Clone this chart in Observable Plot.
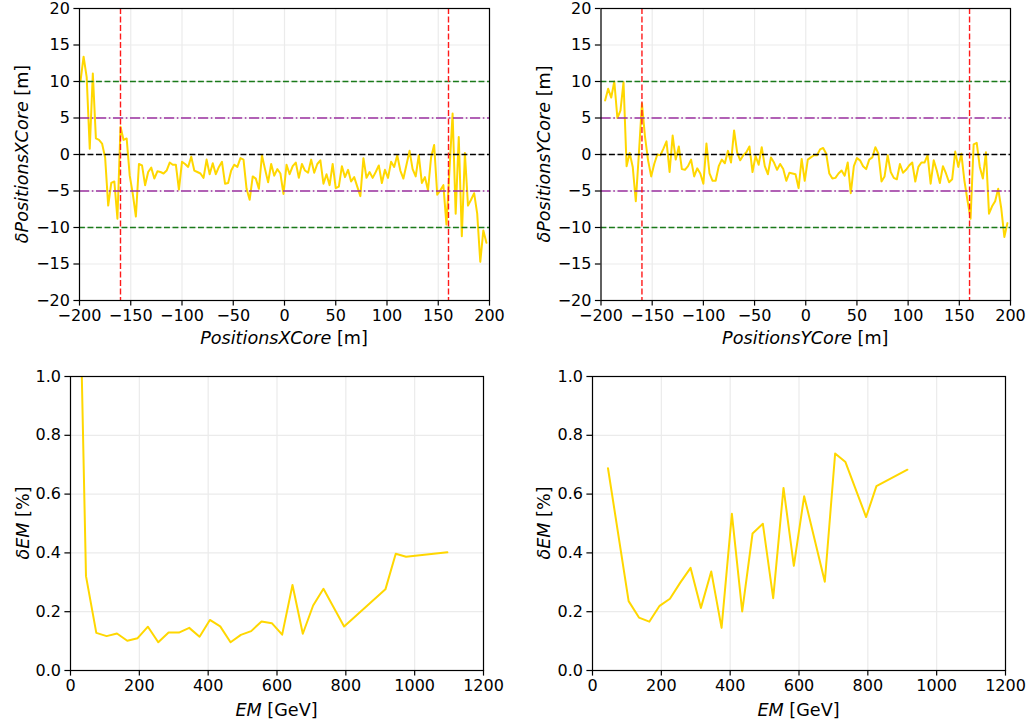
<!DOCTYPE html>
<html><head><meta charset="utf-8">
<script src="https://cdn.jsdelivr.net/npm/d3@7"></script>
<script src="https://cdn.jsdelivr.net/npm/@observablehq/plot@0.6"></script>
<style>
body{margin:0;background:#fff;}
#root{position:relative;width:1032px;height:725px;font-family:"DejaVu Sans",sans-serif;background:#fff;}
.panel{position:absolute;}
</style></head><body><div id="root"></div>
<script>
// core position bins [m]
const corePos = [-199,-196,-193,-190,-187,-184,-181,-178,-175,-172,-169,-166,-163,-160,-157,-154,-151,-148,-145,-142,-139,-136,-133,-130,-127,-124,-121,-118,-115,-112,-109,-106,-103,-100,-97,-94,-91,-88,-85,-82,-79,-76,-73,-70,-67,-64,-61,-58,-55,-52,-49,-46,-43,-40,-37,-34,-31,-28,-25,-22,-19,-16,-13,-10,-7,-4,-1,2,5,8,11,14,17,20,23,26,29,32,35,38,41,44,47,50,53,56,59,62,65,68,71,74,77,80,83,86,89,92,95,98,101,104,107,110,113,116,119,122,125,128,131,134,137,140,143,146,149,152,155,158,161,164,167,170,173,176,179,182,185,188,191,194,197];
const corePosY = corePos.slice(1);
// δPositionsXCore [m]
const dPosX = [10.1,13.4,10.6,0.8,11.1,2.2,2.0,1.5,-0.4,-7.0,-3.9,-3.7,-8.8,3.8,2.0,2.2,-2.9,-5.4,-8.5,-1.3,
-1.5,-4.2,-2.4,-1.8,-3.3,-2.3,-2.4,-2.6,-2.2,-1.1,-1.4,-1.4,-4.8,-1.0,-1.3,-1.7,-0.3,-2.2,-2.4,-2.6,
-3.2,-0.7,-2.7,-1.2,-2.7,-1.7,-1.0,-4.0,-3.9,-2.2,-1.4,-1.7,-0.5,-0.7,-4.7,-6.2,-3.0,-3.3,-4.7,-0.1,
-2.0,-3.8,-1.3,-2.9,-2.0,-2.6,
-5.4,-1.4,-2.7,-1.6,-1.1,-3.2,-1.3,-2.2,-2.5,-0.7,
-2.5,-1.3,-0.8,-4.0,-2.7,-4.2,-1.3,-4.6,-4.4,-1.6,
-3.1,-2.1,-3.7,-3.1,-4.4,-5.7,-0.5,-3.2,-2.4,-3.2,
-2.4,-1.5,-3.9,-2.1,-3.2,-1.0,-1.7,-0.1,-2.2,-3.3,
-1.4,0.5,-2.0,-3.0,-0.1,-3.9,-3.1,-4.9,-0.4,1.3,
-5.5,-4.9,-4.2,-9.6,-2.0,5.6,-8.1,2.4,-11.2,0.2,
-7.0,-6.2,-5.3,-8.1,-14.7,-10.4,-12.1];
// δPositionsYCore [m]
const dPosY = [7.4,9.0,7.8,10.0,5.0,6.0,9.9,-1.6,0.2,-1.7,
-6.4,0.1,7.0,2.4,-0.8,-3.0,-1.3,0.0,-0.1,0.8,
1.8,-2.4,2.6,-0.7,1.1,-2.0,-2.1,-1.6,-0.7,-3.0,
-1.9,-2.6,-4.0,1.5,-2.6,-3.6,-3.6,-1.6,-0.7,-1.2,
0.5,-1.1,3.3,0.3,-0.8,-0.1,0.3,1.1,-2.4,-0.2,
-1.4,1.0,-1.6,-2.7,-0.4,-1.1,-2.1,-1.3,-2.0,-3.6,
-2.5,-2.6,-2.7,-4.6,-0.6,-3.6,-0.7,-0.4,
-0.1,-0.1,0.7,0.9,0.1,-2.6,-3.3,-3.2,-2.6,-2.2,
-2.9,-1.1,-5.3,-1.6,-0.5,-0.8,-1.6,-2.0,-0.7,-0.4,
1.0,0.1,-3.7,-3.0,-0.1,-2.4,-3.2,-3.4,-1.3,-2.5,
-2.1,-1.5,-1.1,-3.7,-1.7,-1.1,-1.1,-0.1,-4.0,-0.8,
-2.2,-3.9,-1.6,-2.6,-3.8,-3.4,0.4,-1.7,0.1,-3.6,
-6.3,-8.8,1.4,1.6,-1.7,-3.3,0.3,-8.1,-7.1,-6.4,
-4.7,-7.4,-11.3,-9.4];
// EM [GeV] and δEM [%]
const emLeft = [15,45,75,105,135,165,195,225,255,285,315,345,375,405,435,465,495,525,555,585,615,645,675,705,735,795,915,945,975,1095];
const dEmLeft = [2.0,0.321,0.128,0.117,0.126,0.101,0.110,0.149,0.096,0.129,0.129,0.145,0.115,0.172,0.150,0.096,0.121,0.134,0.167,0.161,0.122,0.291,0.125,0.221,0.278,0.150,0.276,0.397,0.387,0.402];
const emRight = [45,105,135,165,195,225,255,285,315,345,375,405,435,465,495,525,555,585,615,675,705,735,795,825,915];
const dEmRight = [0.688,0.236,0.180,0.166,0.220,0.244,0.299,0.349,0.213,0.337,0.145,0.533,0.201,0.466,0.499,0.246,0.621,0.356,0.593,0.302,0.738,0.709,0.522,0.627,0.683];

const coreTicks = [-200,-150,-100,-50,0,50,100,150,200];
const dPosTicks = [-20,-15,-10,-5,0,5,10,15,20];
const emTicks = [0,200,400,600,800,1000,1200];
const dEmTicks = [0,0.2,0.4,0.6,0.8,1.0];
const outerLines = [-10,10];
const innerLines = [-5,5];
const zeroLine = [0];
const edgeLines = [-160,160];

const minus = d => d < 0 ? "\u2212" + Math.abs(d) : String(d);
const oneDec = d => d.toFixed(1);

function addLabel(svg, x, y, it, rest, rotate) {
  const t = d3.select(svg).append("text")
    .attr("text-anchor", "middle")
    .attr("dy", "0.35em")
    .attr("font-family", "DejaVu Sans, sans-serif")
    .attr("font-size", 17.6)
    .attr("fill", "#000")
    .attr("transform", rotate ? `translate(${x},${y}) rotate(-90)` : `translate(${x},${y})`);
  t.append("tspan").attr("font-style", "italic").text(it);
  t.append("tspan").text(rest);
}

function panel(o) {
  const marks = [
    Plot.gridX(o.xt, {stroke: "#ebebeb", strokeOpacity: 1, strokeWidth: 1.2}),
    Plot.gridY(o.yt, {stroke: "#ebebeb", strokeOpacity: 1, strokeWidth: 1.2}),
    ...o.marks,
    Plot.frame({stroke: "#000", strokeWidth: 1.2}),
    Plot.axisX(o.xt, {tickSize: 5.6, tickPadding: 4, tickFormat: o.xf, fontSize: 16, label: null, stroke: "#000", strokeWidth: 1.2}),
    Plot.axisY(o.yt, {tickSize: 5.6, tickPadding: 4, tickFormat: o.yf, fontSize: 16, label: null, stroke: "#000", strokeWidth: 1.2})
  ];
  const svg = Plot.plot({
    width: o.w, height: o.h,
    marginLeft: o.m[0], marginRight: o.m[1], marginTop: o.m[2], marginBottom: o.m[3],
    style: {fontFamily: "DejaVu Sans, sans-serif", fontSize: "16px", color: "#000", background: "#fff", overflow: "visible"},
    x: {domain: o.xd},
    y: {domain: o.yd},
    marks
  });
  const L = o.m[0], R = o.w - o.m[1], T = o.m[2], B = o.h - o.m[3];
  addLabel(svg, (L + R) / 2, o.xly, o.xl[0], o.xl[1], false);
  addLabel(svg, o.ylx, (T + B) / 2, o.yl[0], o.yl[1], true);
  const div = document.createElement("div");
  div.className = "panel";
  div.style.left = o.left + "px";
  div.style.top = o.top + "px";
  div.appendChild(svg);
  document.getElementById("root").appendChild(div);
}

const gold = "#FFD700";
function refMarks() {
  return [
    Plot.ruleY(outerLines, {stroke: "#1a7a1a", strokeWidth: 1.4, strokeDasharray: "5.9,2.6"}),
    Plot.ruleY(innerLines, {stroke: "#9b30a0", strokeWidth: 1.6, strokeDasharray: "10.2,2.6,1.6,2.6"}),
    Plot.ruleY(zeroLine, {stroke: "#000", strokeWidth: 1.4, strokeDasharray: "5.9,2.6"}),
    Plot.ruleX(edgeLines, {stroke: "#ff1a1a", strokeWidth: 1.4, strokeDasharray: "5.9,2.6"})
  ];
}

panel({left: 0, top: 0, w: 516, h: 360, m: [79, 27, 8, 60],
  xd: [-200, 200], yd: [-20, 20], xt: coreTicks, yt: dPosTicks, xf: minus, yf: minus,
  marks: [Plot.line(corePos.map((x, i) => [x, dPosX[i]]), {x: d => d[0], y: d => d[1], stroke: gold, strokeWidth: 2}), ...refMarks()],
  xl: ["PositionsXCore", " [m]"], yl: ["\u03b4PositionsXCore", " [m]"], xly: 338, ylx: 22});

panel({left: 516, top: 0, w: 516, h: 360, m: [84.5, 22, 8, 60],
  xd: [-200, 200], yd: [-20, 20], xt: coreTicks, yt: dPosTicks, xf: minus, yf: minus,
  marks: [Plot.line(corePosY.map((x, i) => [x, dPosY[i]]), {x: d => d[0], y: d => d[1], stroke: gold, strokeWidth: 2}), ...refMarks()],
  xl: ["PositionsYCore", " [m]"], yl: ["\u03b4PositionsYCore", " [m]"], xly: 338, ylx: 27.5});

panel({left: 0, top: 360, w: 516, h: 365, m: [70, 33, 16, 55],
  xd: [0, 1200], yd: [0, 1], xt: emTicks, yt: dEmTicks, xf: d => String(d), yf: oneDec,
  marks: [Plot.line(emLeft.map((x, i) => [x, dEmLeft[i]]), {x: d => d[0], y: d => d[1], stroke: gold, strokeWidth: 2, clip: true})],
  xl: ["EM", " [GeV]"], yl: ["\u03b4EM", " [%]"], xly: 350, ylx: 22.5});

panel({left: 516, top: 360, w: 516, h: 365, m: [76, 27, 16, 55],
  xd: [0, 1200], yd: [0, 1], xt: emTicks, yt: dEmTicks, xf: d => String(d), yf: oneDec,
  marks: [Plot.line(emRight.map((x, i) => [x, dEmRight[i]]), {x: d => d[0], y: d => d[1], stroke: gold, strokeWidth: 2, clip: true})],
  xl: ["EM", " [GeV]"], yl: ["\u03b4EM", " [%]"], xly: 350, ylx: 28});
</script></body></html>
